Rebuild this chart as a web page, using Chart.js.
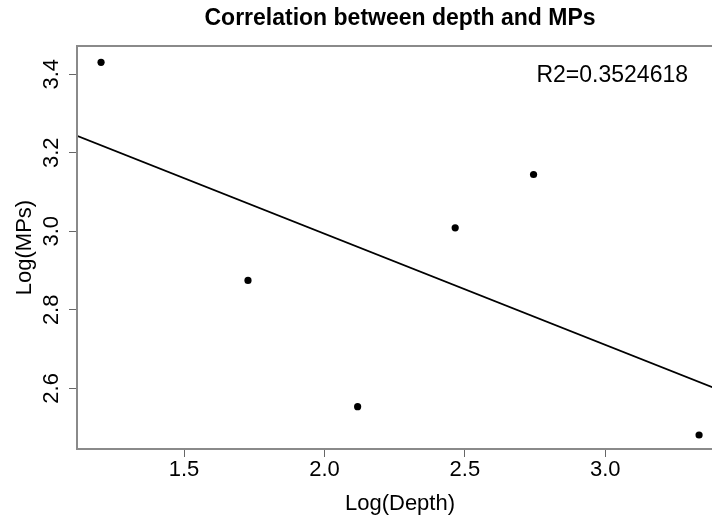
<!DOCTYPE html>
<html>
<head>
<meta charset="utf-8">
<script src="https://cdn.jsdelivr.net/npm/chart.js@4.4.1/dist/chart.umd.min.js"></script>
<style>
  html, body { margin: 0; padding: 0; background: #fff; overflow: hidden; width: 712px; height: 515px; }
  canvas { display: block; }
</style>
</head>
<body>
<canvas id="c" width="800" height="515"></canvas>
<script>
// ---- data ----
const logDepth = [1.2046, 1.7278, 2.1181, 2.4655, 2.7445, 3.3338];
const logMPs   = [3.4305, 2.8749, 2.5532, 3.0088, 3.1447, 2.4811];
// fitted regression line (abline) endpoints
const fitX = [1.119, 3.419];
const fitY = [3.243, 2.592];
const xTickLabels = ['1.5', '2.0', '2.5', '3.0'];
const yTickLabels = ['2.6', '2.8', '3.0', '3.2', '3.4'];
const titleText = 'Correlation between depth and MPs';
const xTitle = 'Log(Depth)';
const yTitle = 'Log(MPs)';
const r2Text = 'R2=0.3524618';

const FONT = "'Liberation Sans', Arial, Helvetica, sans-serif";

const points = logDepth.map((x, i) => ({x: x, y: logMPs[i]}));
const fitLine = fitX.map((x, i) => ({x: x, y: fitY[i]}));

const boxPlugin = {
  id: 'rbox',
  afterDraw(chart) {
    const {ctx, chartArea: a} = chart;
    ctx.save();
    ctx.strokeStyle = '#8a8a8a';
    ctx.lineWidth = 2;
    ctx.strokeRect(a.left, a.top, a.right - a.left, a.bottom - a.top);
    ctx.fillStyle = '#000';
    ctx.font = '23px ' + FONT;
    ctx.textAlign = 'right';
    ctx.textBaseline = 'alphabetic';
    ctx.fillText(r2Text, a.right - 35, a.top + 35.5);
    ctx.restore();
  }
};

new Chart(document.getElementById('c'), {
  type: 'scatter',
  data: {
    datasets: [
      {
        label: 'points',
        data: points,
        backgroundColor: '#000',
        borderColor: '#000',
        pointRadius: 3.6,
        pointHoverRadius: 3.6,
        borderWidth: 0
      },
      {
        label: 'fit',
        type: 'line',
        data: fitLine,
        borderColor: '#000',
        borderWidth: 1.8,
        pointRadius: 0,
        fill: false,
        tension: 0
      }
    ]
  },
  options: {
    responsive: false,
    animation: false,
    devicePixelRatio: 1,
    layout: { padding: 0 },
    plugins: {
      legend: { display: false },
      tooltip: { enabled: false },
      title: {
        display: true,
        text: titleText,
        color: '#000',
        font: { family: FONT, size: 23, weight: 'bold', lineHeight: 1.2 },
        padding: { top: 4.8, bottom: 13.6 }
      }
    },
    scales: {
      x: {
        type: 'linear',
        position: 'bottom',
        min: 1.119,
        max: 3.419,
        afterFit(s) { s.height = 66; },
        border: { display: false },
        grid: { drawOnChartArea: false, drawTicks: true, tickLength: 8, color: '#666', tickWidth: 1 },
        ticks: {
          stepSize: 0.5,
          includeBounds: false,
          color: '#000',
          font: { family: FONT, size: 22, lineHeight: 1.2 },
          padding: 0,
          maxRotation: 0,
          callback: (v) => { const s = v.toFixed(1); return xTickLabels.includes(s) ? s : ''; }
        },
        title: {
          display: true,
          text: xTitle,
          color: '#000',
          font: { family: FONT, size: 22, lineHeight: 1 },
          padding: { top: 0, bottom: 0 }
        }
      },
      y: {
        type: 'linear',
        position: 'left',
        min: 2.4455,
        max: 3.472,
        afterFit(s) { s.width = 77; },
        border: { display: false },
        grid: { drawOnChartArea: false, drawTicks: true, tickLength: 8, color: '#666', tickWidth: 1 },
        ticks: {
          stepSize: 0.2,
          includeBounds: false,
          color: '#000',
          font: { family: FONT, size: 22, lineHeight: 1.2 },
          padding: 2,
          minRotation: 90,
          maxRotation: 90,
          crossAlign: 'center',
          callback: (v) => { const s = v.toFixed(1); return yTickLabels.includes(s) ? s : ''; }
        },
        title: {
          display: true,
          text: yTitle,
          color: '#000',
          font: { family: FONT, size: 22, lineHeight: 1 },
          padding: { top: 14, bottom: 0 }
        }
      },
      yRight: {
        type: 'linear',
        position: 'right',
        min: 2.4455,
        max: 3.472,
        afterFit(s) { s.width = 77; },
        border: { display: false },
        grid: { display: false },
        ticks: { display: false }
      }
    }
  },
  plugins: [boxPlugin]
});
</script>
</body>
</html>
